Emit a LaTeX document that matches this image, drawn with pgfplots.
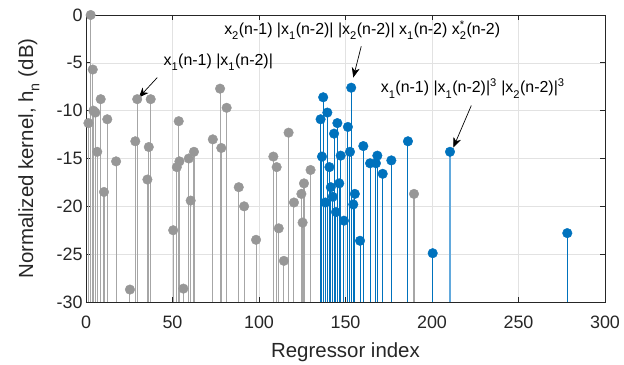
\documentclass[border=0pt]{standalone}
\usepackage{pgfplots}
\pgfplotsset{compat=1.18}
\usepackage{pgfplotstable}
\usepackage{fontspec}
\setmainfont{Liberation Sans}
\usetikzlibrary{arrows.meta}
\definecolor{mblue}{HTML}{0072BD}
\definecolor{lblue}{HTML}{62A9DD}
\definecolor{mgray}{HTML}{979797}
\definecolor{sgray}{HTML}{A6A6A6}
\definecolor{axcol}{HTML}{262626}
\definecolor{gridc}{HTML}{E2E2E2}
\newcommand\sub[1]{\raisebox{-0.3ex}{\textsubscript{#1}}}

\pgfplotstableread{
x y
1.4 -11.3
2.7 0
3.9 -5.7
4.3 -10.0
5.4 -10.2
6.5 -14.3
8.5 -8.8
10.4 -18.5
12.3 -10.9
17.4 -15.3
25.4 -28.7
28.5 -13.2
29.6 -8.8
35.5 -17.2
36.3 -13.8
37.4 -8.8
50.4 -22.5
52.5 -15.9
53.6 -11.1
54.0 -15.3
56.3 -28.6
59.4 -15.0
60.5 -19.4
62.4 -14.3
73.3 -13.0
77.5 -7.7
78.2 -13.9
81.3 -9.7
88.3 -18.0
91.4 -20.0
98.3 -23.5
108.3 -14.8
110.2 -15.9
111.4 -22.3
114.4 -25.7
117.1 -12.3
120.2 -19.6
124.5 -18.7
125.2 -21.7
126.0 -17.6
129.8 -16.2
189.6 -18.7
}\graydata

\pgfplotstableread{
x y
135.6 -10.9
136.4 -14.8
137.1 -8.6
138.4 -19.6
139.5 -10.2
140.7 -15.9
141.5 -18.0
142.6 -19.0
143.4 -12.4
144.5 -20.6
145.3 -11.3
146.4 -17.6
147.2 -14.7
149.1 -21.5
151.4 -11.7
152.6 -14.3
153.3 -7.6
154.5 -19.8
155.4 -18.7
158.4 -23.6
160.3 -13.7
164.2 -15.5
167.6 -15.5
168.4 -14.7
171.5 -16.6
176.5 -15.2
186.1 -13.2
200.4 -24.9
278.2 -22.8
}\bluedata

\pgfplotstableread{
x y
210.4 -14.3
}\lightbluedata

\begin{document}
\begin{tikzpicture}
\path[use as bounding box] (-86bp,-63bp) rectangle (538bp,302bp);
\begin{axis}[
  at={(0,0)}, anchor=south west,
  scale only axis, width=519bp, height=287bp,
  xmin=0, xmax=300, ymin=-30, ymax=0,
  xtick={0,50,...,300}, ytick={-30,-25,...,0},
  grid=major, major grid style={gridc, line width=0.6bp},
  axis line style={axcol, line width=0.8bp},
  tick style={axcol, line width=0.8bp},
  tick align=inside, major tick length=5bp,
  ticklabel style={font=\fontsize{18}{20}\selectfont, text=axcol},
  xticklabel style={yshift=-10bp},
  /pgf/number format/assume math mode=true,
  xlabel={Regressor index},
  ylabel={Normalized kernel, h\sub{n} (dB)},
  label style={font=\fontsize{20.5}{23}\selectfont, text=axcol},
  xlabel style={at={(axis description cs:0.5,-0.175)}, anchor=center},
  ylabel style={at={(axis description cs:-0.11,0.5)}, anchor=center},
  clip=false,
]
% gray stems
\addplot[only marks, mark=none, forget plot,
  error bars/.cd, y dir=minus, y explicit, error mark=none,
  error bar style={draw=sgray, line width=1.1bp}]
  table[x=x, y=y, y error minus expr={\thisrow{y}+30}] \graydata;
\addplot[only marks, mark=*, mark size=4.8bp, mark options={fill=mgray, draw=mgray}]
  table[x=x, y=y] \graydata;
% blue stems
\addplot[only marks, mark=none, forget plot,
  error bars/.cd, y dir=minus, y explicit, error mark=none,
  error bar style={draw=mblue, line width=1bp}]
  table[x=x, y=y, y error minus expr={\thisrow{y}+30}] \bluedata;
\addplot[only marks, mark=none, forget plot,
  error bars/.cd, y dir=minus, y explicit, error mark=none,
  error bar style={draw=lblue, line width=1.3bp}]
  table[x=x, y=y, y error minus expr={\thisrow{y}+30}] \lightbluedata;
\addplot[only marks, mark=*, mark size=4.8bp, mark options={fill=mblue, draw=mblue}]
  table[x=x, y=y] \bluedata;
\addplot[only marks, mark=*, mark size=4.8bp, mark options={fill=mblue, draw=mblue}]
  table[x=x, y=y] \lightbluedata;
% annotations
\node[anchor=base west, font=\fontsize{16}{18}\selectfont, inner sep=0pt, text=black]
  at (axis cs:44.7,-5.26) {x\sub{1}(n-1) |x\sub{1}(n-2)|};
\draw[black, line width=0.7bp, -{Stealth[length=10bp,width=8bp,inset=3bp]}]
  (axis cs:41.2,-6.54) -- (axis cs:30.5,-8.63);
\node[anchor=base west, font=\fontsize{16}{18}\selectfont, inner sep=0pt, text=black]
  at (axis cs:79.8,-2.05) {x\sub{2}(n-1) |x\sub{1}(n-2)| |x\sub{2}(n-2)| x\sub{1}(n-2) x\rlap{\textsuperscript{*}}\sub{2}(n-2)};
\draw[black, line width=0.7bp, -{Stealth[length=10bp,width=8bp,inset=3bp]}]
  (axis cs:159.1,-3.27) -- (axis cs:154.5,-6.54);
\node[anchor=base west, font=\fontsize{16}{18}\selectfont, inner sep=0pt, text=black]
  at (axis cs:170.3,-8.15) {x\sub{1}(n-1) |x\sub{1}(n-2)|\textsuperscript{3} |x\sub{2}(n-2)|\textsuperscript{3}};
\draw[black, line width=0.7bp, -{Stealth[length=10bp,width=8bp,inset=3bp]}]
  (axis cs:222.7,-9.47) -- (axis cs:212.3,-13.86);
\end{axis}
\end{tikzpicture}
\end{document}
